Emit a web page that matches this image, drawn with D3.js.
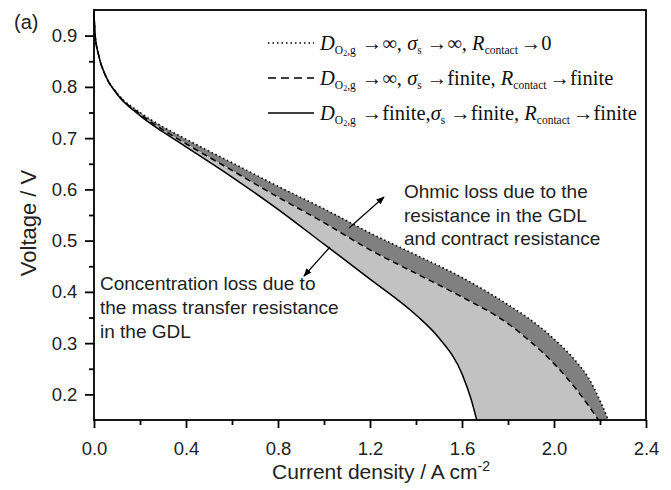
<!DOCTYPE html>
<html><head><meta charset="utf-8">
<script src="https://cdn.jsdelivr.net/npm/d3@7/dist/d3.min.js"></script>
<style>body{margin:0;background:#fff}svg{display:block}</style>
</head><body>
<script>
// ---- data ----
const xIdeal   = [0, 0.005, 0.02, 0.05, 0.1, 0.2, 0.3, 0.4, 0.6, 0.8, 1.0, 1.2, 1.4, 1.6, 1.8, 1.9, 2.0, 2.1, 2.15, 2.2, 2.236];
const vIdeal   = [0.945, 0.90, 0.862, 0.822, 0.788, 0.75, 0.722, 0.698, 0.652, 0.606, 0.562, 0.515, 0.472, 0.428, 0.375, 0.345, 0.308, 0.262, 0.232, 0.188, 0.15];
const xOhmic   = [0, 0.005, 0.02, 0.05, 0.1, 0.2, 0.3, 0.4, 0.6, 0.8, 1.0, 1.2, 1.4, 1.6, 1.8, 1.9, 2.0, 2.1, 2.15, 2.193];
const vOhmic   = [0.945, 0.90, 0.862, 0.822, 0.787, 0.747, 0.716, 0.689, 0.637, 0.585, 0.535, 0.482, 0.436, 0.39, 0.338, 0.302, 0.26, 0.208, 0.178, 0.15];
const xFull    = [0, 0.005, 0.02, 0.05, 0.1, 0.2, 0.3, 0.4, 0.6, 0.8, 1.0, 1.2, 1.4, 1.5, 1.6, 1.64, 1.664];
const vFull    = [0.945, 0.90, 0.862, 0.822, 0.786, 0.744, 0.712, 0.683, 0.624, 0.561, 0.493, 0.425, 0.355, 0.31, 0.24, 0.19, 0.15];
const xTicks   = [0.0, 0.4, 0.8, 1.2, 1.6, 2.0, 2.4];
const xMinorTicks = [0.2, 0.6, 1.0, 1.4, 1.8, 2.2];
const yTicks   = [0.2, 0.3, 0.4, 0.5, 0.6, 0.7, 0.8, 0.9];
const yMinorTicks = [0.25, 0.35, 0.45, 0.55, 0.65, 0.75, 0.85];

const W = 671, H = 490;
const svg = d3.select("body").append("svg").attr("width", W).attr("height", H);
const x = d3.scaleLinear().domain([0, 2.4]).range([94, 646]);
const y = d3.scaleLinear().domain([0.15, 0.95]).range([420, 10]);

const pts = (xs, vs) => xs.map((d, i) => [d, vs[i]]);
const ideal = pts(xIdeal, vIdeal), ohmic = pts(xOhmic, vOhmic), full = pts(xFull, vFull);
const line = d3.line().x(d => x(d[0])).y(d => y(d[1])).curve(d3.curveMonotoneX);
const band = (a, b) => line(a) + "L" + line(b.slice().reverse()).slice(1) + "Z";

// fills
svg.append("path").attr("d", band(ideal, ohmic)).attr("fill", "#808080").attr("stroke", "none");
svg.append("path").attr("d", band(ohmic, full)).attr("fill", "#c2c2c2").attr("stroke", "none");

// curves
svg.append("path").attr("d", line(ideal)).attr("fill", "none").attr("stroke", "#000")
   .attr("stroke-width", 1.6).attr("stroke-dasharray", "1.5,2.8");
svg.append("path").attr("d", line(ohmic)).attr("fill", "none").attr("stroke", "#000")
   .attr("stroke-width", 1.5).attr("stroke-dasharray", "6,4");
svg.append("path").attr("d", line(full)).attr("fill", "none").attr("stroke", "#000")
   .attr("stroke-width", 1.5);

// axes
const font = "Liberation Sans, Arial, sans-serif";
const xAx = svg.append("g").attr("transform", "translate(0,420)")
  .call(d3.axisBottom(x).tickValues(xTicks).tickFormat(d3.format(".1f")).tickSize(8).tickSizeOuter(0));
const xMin = svg.append("g").attr("transform", "translate(0,420)")
  .call(d3.axisBottom(x).tickValues(xMinorTicks).tickFormat("").tickSize(5).tickSizeOuter(0));
const yAx = svg.append("g").attr("transform", "translate(94,0)")
  .call(d3.axisLeft(y).tickValues(yTicks).tickFormat(d3.format(".1f")).tickSize(9).tickSizeOuter(0));
const yMin = svg.append("g").attr("transform", "translate(94,0)")
  .call(d3.axisLeft(y).tickValues(yMinorTicks).tickFormat("").tickSize(5).tickSizeOuter(0));
[xAx, xMin, yAx, yMin].forEach(g => {
  g.select(".domain").remove();
  g.selectAll("line").attr("stroke", "#000").attr("stroke-width", 1.8);
  g.selectAll("text").attr("font-family", font).attr("font-size", 18.5).attr("fill", "#222");
});
xAx.selectAll("text").attr("dy", "1.3em");
yAx.selectAll("text").attr("dx", "-0.25em");

// frame
svg.append("rect").attr("x", x(0)).attr("y", y(0.95)).attr("width", x(2.4) - x(0)).attr("height", y(0.15) - y(0.95))
  .attr("fill", "none").attr("stroke", "#000").attr("stroke-width", 1.8);

// axis titles
svg.append("text").attr("x", 381).attr("y", 479).attr("text-anchor", "middle")
  .attr("font-family", font).attr("font-size", 21).attr("fill", "#222")
  .call(t => { t.append("tspan").text("Current density / A cm"); t.append("tspan").attr("dy", -8).attr("font-size", 14).text("-2"); });
svg.append("text").attr("transform", "translate(36,223) rotate(-90)").attr("text-anchor", "middle")
  .attr("font-family", font).attr("font-size", 22).attr("fill", "#222").text("Voltage / V");
svg.append("text").attr("x", 14).attr("y", 29).attr("font-family", font).attr("font-size", 20).attr("fill", "#222").text("(a)");

// legend
const serif = "Liberation Serif, Times New Roman, serif";
const legY = [43, 78, 113];
const legDash = ["1.5,3", "8,5", null];
const legEnd = [["\u2192\u221E, ", "\u2192\u221E, ", "\u21920"], ["\u2192\u221E, ", "\u2192finite, ", "\u2192finite"], ["\u2192finite,", "\u2192finite, ", "\u2192finite"]];
legY.forEach((ly, i) => {
  const l = svg.append("line").attr("x1", 268).attr("x2", 314).attr("y1", ly).attr("y2", ly)
    .attr("stroke", "#000").attr("stroke-width", 1.6);
  if (legDash[i]) l.attr("stroke-dasharray", legDash[i]);
  const t = svg.append("text").attr("x", 320).attr("y", ly + 7).attr("font-family", serif).attr("font-size", 20.5).attr("fill", "#111");
  t.append("tspan").attr("font-style", "italic").text("D");
  t.append("tspan").attr("font-size", 11.5).attr("dy", 4).text("O");
  t.append("tspan").attr("font-size", 8).attr("dy", 2).text("2");
  t.append("tspan").attr("font-size", 11.5).attr("dy", -2).text(",g");
  t.append("tspan").attr("dy", -4).attr("dx", 6).text(legEnd[i][0]);
  t.append("tspan").attr("font-style", "italic").text("\u03C3");
  t.append("tspan").attr("font-size", 11.5).attr("dy", 4).text("s");
  t.append("tspan").attr("dy", -4).attr("dx", 5).text(legEnd[i][1]);
  t.append("tspan").attr("font-style", "italic").text("R");
  t.append("tspan").attr("font-size", 11.5).attr("dy", 4).text("contact");
  t.append("tspan").attr("dy", -4).attr("dx", 3).text(legEnd[i][2]);
});

// annotations
const ann1 = ["Ohmic loss due to the", "resistance in the GDL", "and contract resistance"];
const ann2 = ["Concentration loss due to", "the mass transfer resistance", "in the GDL"];
ann1.forEach((s, i) => svg.append("text").attr("x", 404).attr("y", 198 + i * 23.5).attr("font-family", font)
  .attr("font-size", 19).attr("fill", "#222").text(s));
ann2.forEach((s, i) => svg.append("text").attr("x", 100).attr("y", 290 + i * 24).attr("font-family", font)
  .attr("font-size", 19).attr("fill", "#222").text(s));

svg.append("defs").append("marker").attr("id", "ah").attr("viewBox", "0 0 10 10").attr("refX", 9).attr("refY", 5)
  .attr("markerWidth", 7).attr("markerHeight", 7).attr("orient", "auto")
  .append("path").attr("d", "M0,1 L10,5 L0,9 Z").attr("fill", "#000");
svg.append("line").attr("x1", 349).attr("y1", 228).attr("x2", 384).attr("y2", 197)
  .attr("stroke", "#000").attr("stroke-width", 1.2).attr("marker-end", "url(#ah)");
svg.append("line").attr("x1", 330).attr("y1", 247).attr("x2", 304).attr("y2", 276)
  .attr("stroke", "#000").attr("stroke-width", 1.2).attr("marker-end", "url(#ah)");
</script>
</body></html>
